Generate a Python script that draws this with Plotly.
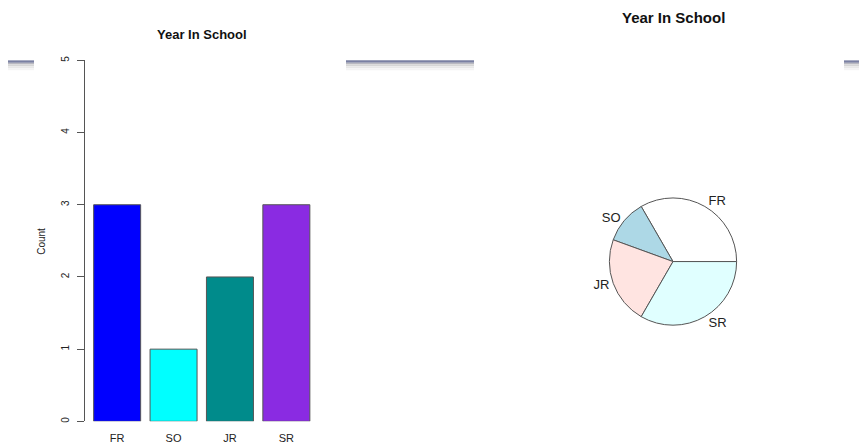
import plotly.graph_objects as go

categories = ["FR", "SO", "JR", "SR"]
counts = [3, 1, 2, 3]
bar_colors = ["#0000FF", "#00FFFF", "#008B8B", "#8A2BE2"]
pie_colors = ["#FFFFFF", "#ADD8E6", "#FFE4E1", "#E0FFFF"]
y_ticks = [0, 1, 2, 3, 4, 5]
title_text = "Year In School"
y_label = "Count"

# page body has an 8px margin: work in window pixels, convert to figure paper coords
OX, OY = 8, 8
W, H = 867 - OX, 448 - OY
FONT = "Liberation Sans, Arial, sans-serif"


def px(x):
    return (x - OX) / W


def py(y):
    return 1 - (y - OY) / H


total = sum(counts)
pie_rotation = 90 - 360 * counts[0] / total  # first slice starts at 3 o'clock, counterclockwise

fig = go.Figure()

fig.add_trace(go.Bar(
    x=categories, y=counts,
    marker=dict(color=bar_colors, line=dict(color="#555555", width=1)),
    width=1 / 1.2,
    showlegend=False, hoverinfo="x+y",
))

R = 64.5
cx, cy = 673, 260
fig.add_trace(go.Pie(
    labels=categories, values=counts,
    marker=dict(colors=pie_colors, line=dict(color="#555555", width=1)),
    sort=False, direction="counterclockwise", rotation=pie_rotation,
    textinfo="label", textposition="outside",
    textfont=dict(family=FONT, size=13, color="#222222"),
    domain=dict(x=[px(cx - R), px(cx + R)], y=[py(cy + R), py(cy - R)]),
    showlegend=False,
))

fig.update_layout(
    width=W, height=H,
    margin=dict(l=0, r=0, t=0, b=0),
    plot_bgcolor="white", paper_bgcolor="white",
    font=dict(family=FONT, size=10, color="#222222"),
    xaxis=dict(
        domain=[px(85), px(318.5)],
        range=[-0.57, 3.57],
        showline=False, showgrid=False, zeroline=False,
        ticks="", ticklabelstandoff=9,
        tickfont=dict(size=11, color="#222222"),
    ),
    yaxis=dict(
        domain=[py(422), py(56)],
        range=[0, 5],
        tickvals=y_ticks,
        showline=True, linecolor="#555555", linewidth=1,
        ticks="outside", ticklen=7, tickcolor="#555555",
        showgrid=False, zeroline=False,
        tickangle=-90, ticklabelstandoff=4,
        tickfont=dict(size=10, color="#222222"),
    ),
    annotations=[
        dict(text="<b>" + title_text + "</b>", x=px(202), y=py(30), xref="paper", yref="paper",
             showarrow=False, font=dict(size=13, color="#111111"), xanchor="center", yanchor="middle"),
        dict(text="<b>" + title_text + "</b>", x=px(673), y=py(13), xref="paper", yref="paper",
             showarrow=False, font=dict(size=15, color="#111111"), xanchor="center", yanchor="middle"),
        dict(text=y_label, x=px(42), y=py(240), xref="paper", yref="paper", textangle=-90,
             showarrow=False, font=dict(size=10, color="#222222"), xanchor="center", yanchor="middle"),
    ],
)

# decorative rule fragments across the top (window artifact in the reference)
segments = [(8, 34), (346, 474), (844, 867)]
bands = [(56, 58.5, "#7a80a2"), (58.5, 60, "#b8b8c0"), (60, 62, "#d6d6d6"), (62, 64, "#e8e8e8"), (64, 66, "#f4f4f4")]
for x0, x1 in segments:
    for y0, y1, c in bands:
        fig.add_shape(type="rect", xref="paper", yref="paper",
                      x0=px(x0), x1=px(x1), y0=py(y1), y1=py(y0),
                      line=dict(width=0), fillcolor=c, layer="below")

fig.write_html("out.html")
